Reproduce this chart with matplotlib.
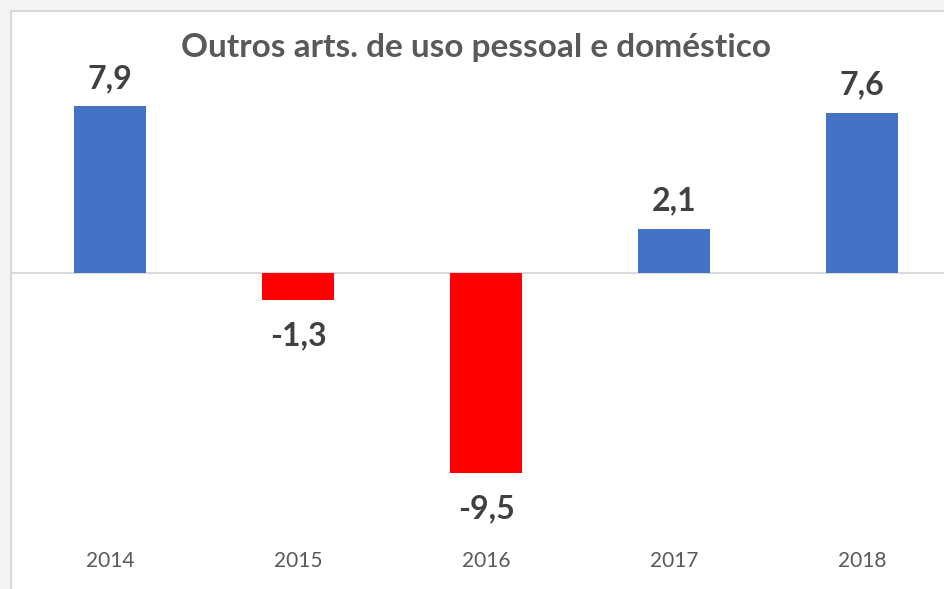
import matplotlib.pyplot as plt
from matplotlib.patches import Rectangle

years = ["2014", "2015", "2016", "2017", "2018"]
values = [7.9, -1.3, -9.5, 2.1, 7.6]
value_labels = ["7,9", "-1,3", "-9,5", "2,1", "7,6"]

plt.rcParams["font.family"] = ["Lato", "DejaVu Sans"]

W, H = 945, 589
fig = plt.figure(figsize=(W / 100, H / 100), dpi=100)
fig.patch.set_facecolor("#f4f4f4")

# white chart panel with a thin grey border, running off the right/bottom edge
fig.patches.append(Rectangle((11 / W, -0.1), 1.2, 1 - 11 / H + 0.1,
                             transform=fig.transFigure, facecolor="white",
                             edgecolor="#d9d9d9", linewidth=1.5, zorder=-5))

# axes in pixel terms: x centres 110..862 (step 188), zero at y=273, 21.1 px per unit
px_per_unit = 21.1
top_px, bot_px = 49, 540
ax = fig.add_axes([12 / W, (H - bot_px) / H, (W - 12) / W, (bot_px - top_px) / H])
ax.set_zorder(2)
ax.set_facecolor("none")
ax.set_xlim(-(110 - 12) / 188, 4 + (W - 862) / 188)
ax.set_ylim(-(bot_px - 273) / px_per_unit, (273 - top_px) / px_per_unit)

colors = ["#4472c4" if v >= 0 else "#ff0000" for v in values]
x = range(len(years))
ax.bar(x, values, width=0.38, color=colors, zorder=2)
ax.axhline(0, color="#d9d9d9", linewidth=1.5, zorder=1)

# labels sit on their baseline: ~18px above positive bars, ~45px below negative ones
for xi, v, lab in zip(x, values, value_labels):
    off = 18 / px_per_unit if v >= 0 else -45 / px_per_unit
    ax.text(xi, v + off, lab, ha="center", va="baseline",
            fontsize=23, fontweight="bold", color="#404040")

ax.set_xticks(list(x))
ax.set_xticklabels(years, fontsize=15, color="#595959")
ax.tick_params(axis="x", length=0, pad=8)
ax.set_yticks([])
for s in ax.spines.values():
    s.set_visible(False)

fig.text(476 / W, 1 - 47 / H, "Outros arts. de uso pessoal e doméstico",
         ha="center", va="center", fontsize=24, fontweight="bold", color="#595959")

fig.savefig("out.png", dpi=100, facecolor=fig.get_facecolor())
